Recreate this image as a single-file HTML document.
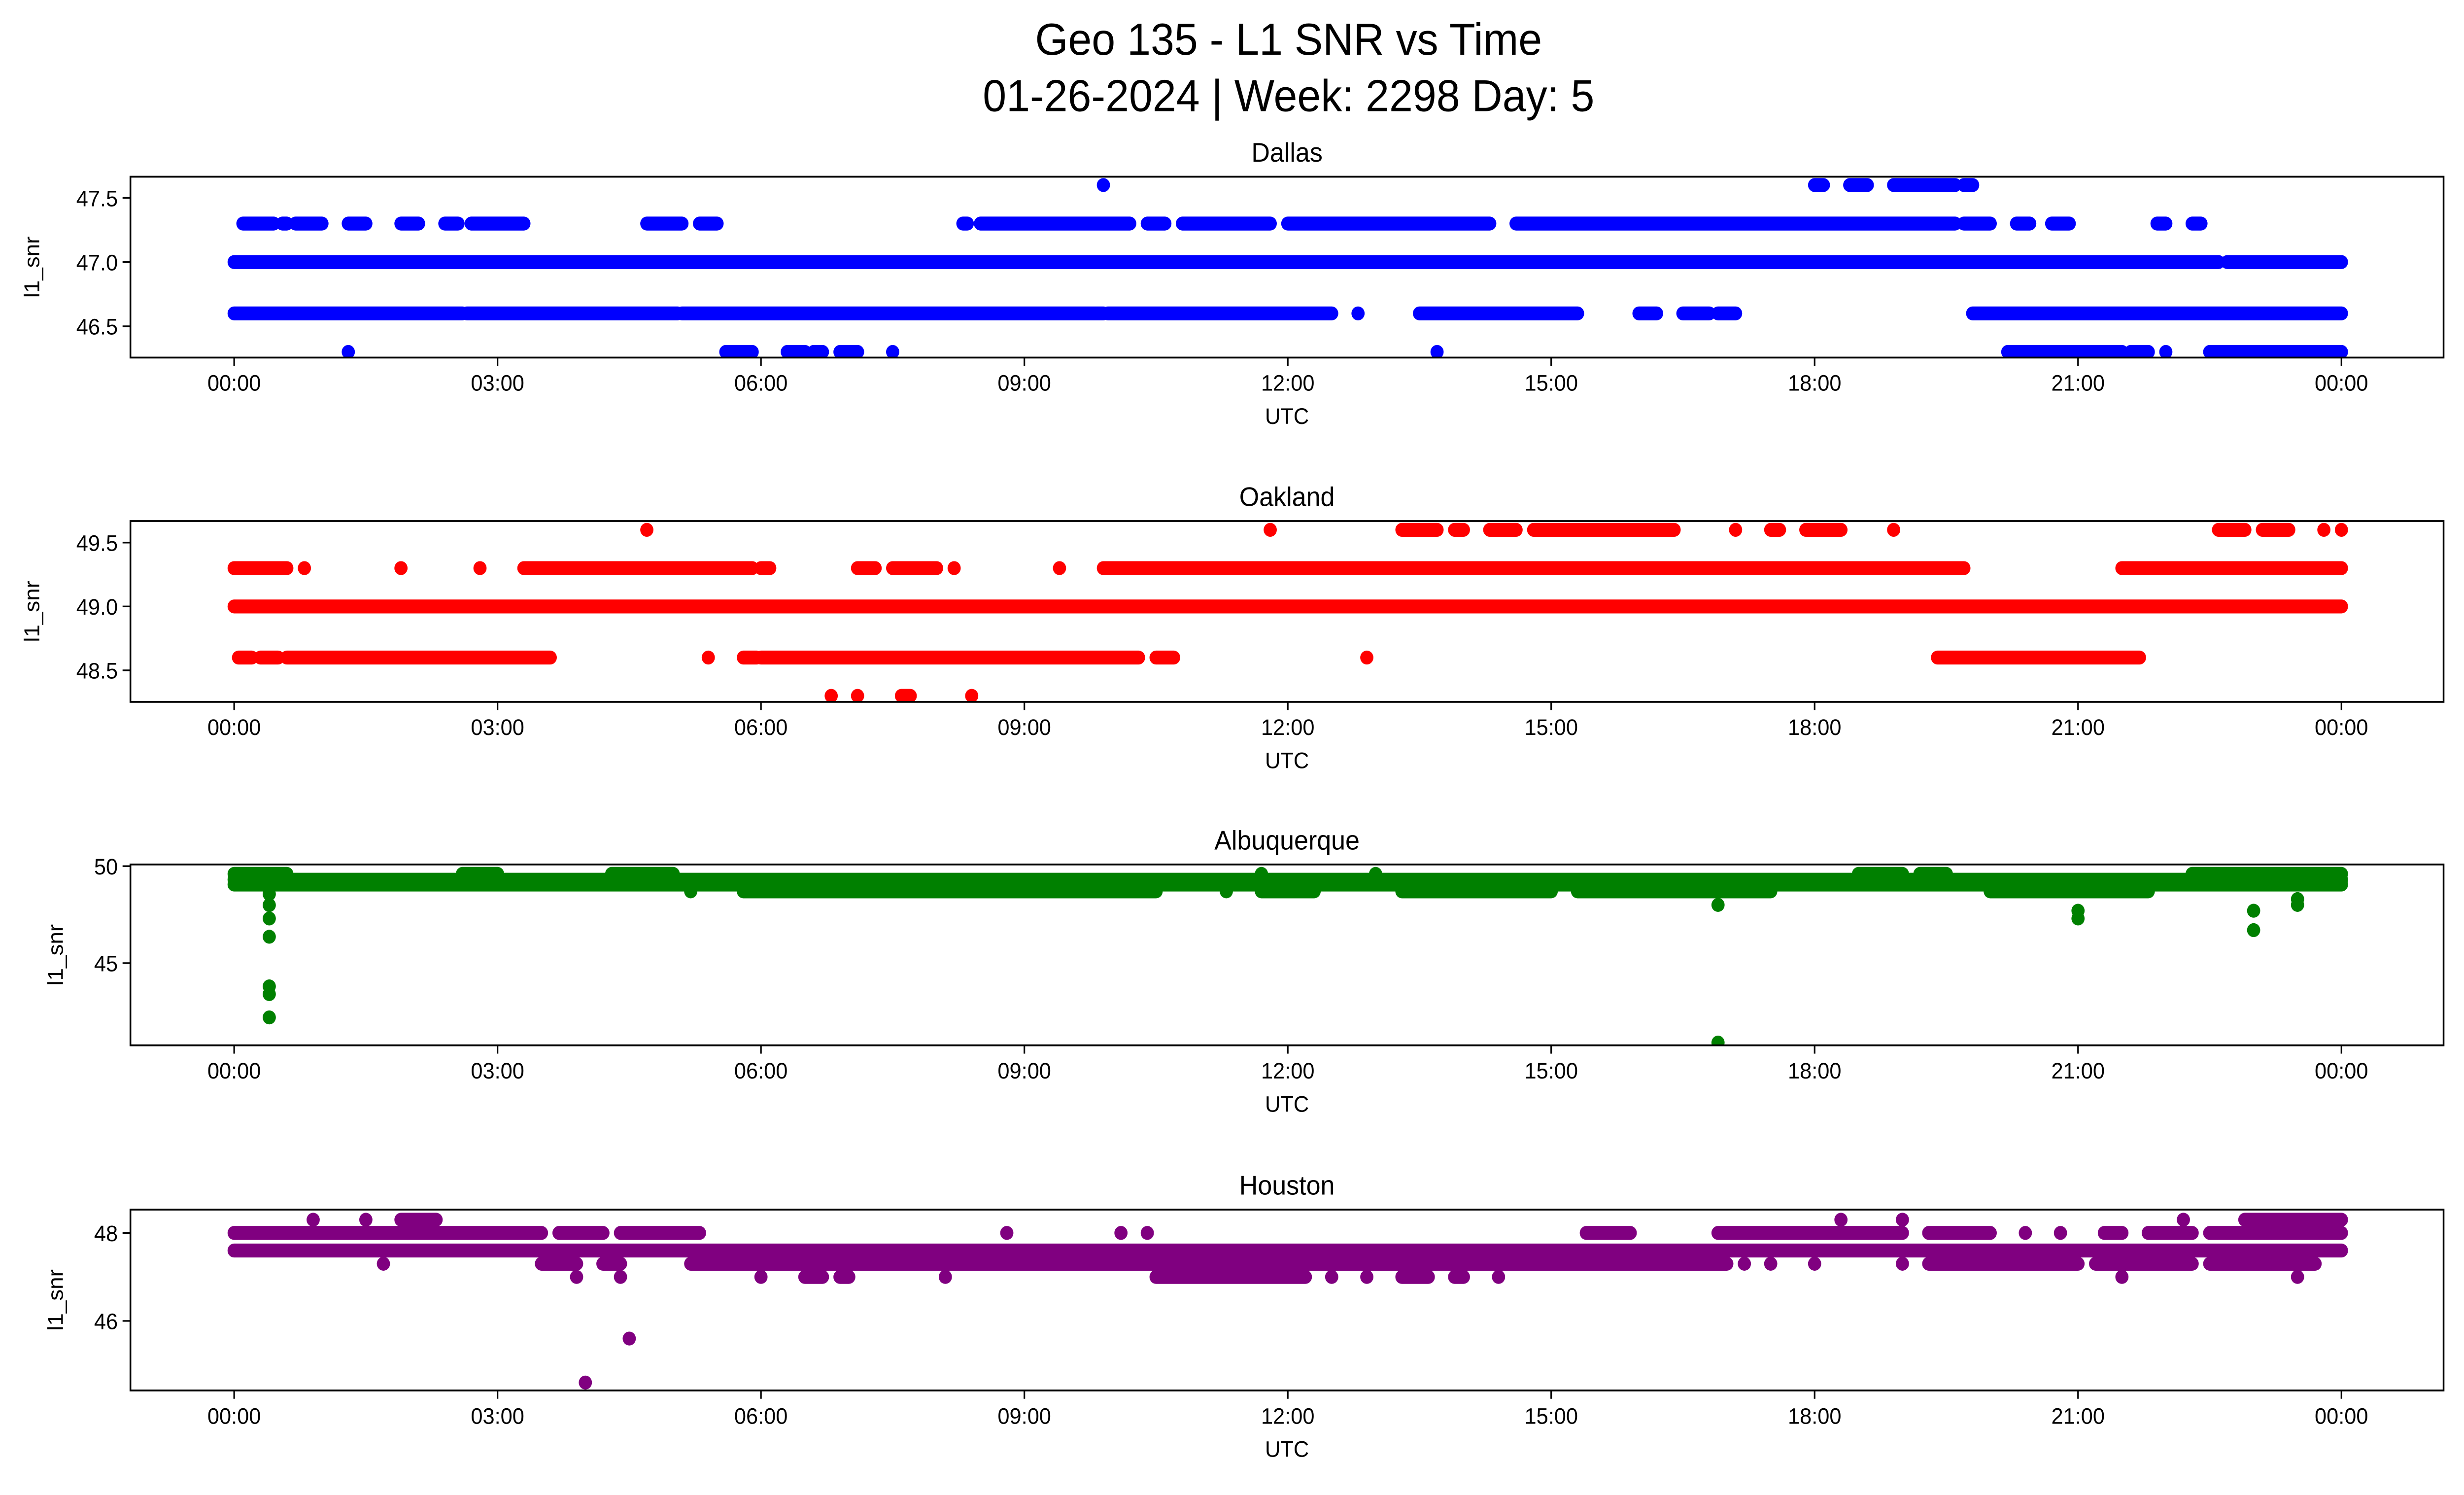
<!DOCTYPE html>
<html><head><meta charset="utf-8">
<style>
html,body{margin:0;padding:0;background:#fff;overflow:hidden;width:100vw;height:100vh;}
svg{display:block;width:100vw;height:100vh;}
text{font-family:"Liberation Sans","DejaVu Sans",sans-serif;fill:#000;}
</style></head>
<body>
<svg id="fig" viewBox="0 0 1568 901" preserveAspectRatio="none" xmlns="http://www.w3.org/2000/svg">
<rect x="0" y="0" width="1568" height="901" fill="#fff"/>
<text x="820" y="33" font-size="27" text-anchor="middle">Geo 135 - L1 SNR vs Time</text>
<text x="820" y="67" font-size="27" text-anchor="middle">01-26-2024 | Week: 2298 Day: 5</text>
<g id="plots"></g>
</svg>
<script>
// x tick labels (hours)
const xTickHours = [0, 3, 6, 9, 12, 15, 18, 21, 24];
const xTickLabels = ["00:00","03:00","06:00","09:00","12:00","15:00","18:00","21:00","00:00"];
const stationNames = ["Dallas","Oakland","Albuquerque","Houston"];
const stationColors = ["#0000ff","#ff0000","#008000","#800080"];
const dallasYTicks = [46.5, 47.0, 47.5];
const oaklandYTicks = [48.5, 49.0, 49.5];
const albuquerqueYTicks = [45, 50];
const houstonYTicks = [46, 48];
// runs: [startHour, endHour, l1_snr]
const dallasRuns = [
[0,22.6,47.0],[22.7,24,47.0],
[0,2.6,46.6],[2.65,5.05,46.6],[5.1,9.9,46.6],[9.95,12.5,46.6],[12.8,12.8,46.6],[13.5,15.3,46.6],[16.0,16.2,46.6],[16.5,16.8,46.6],[16.9,17.1,46.6],[19.8,24,46.6],
[0.1,0.45,47.3],[0.55,0.6,47.3],[0.7,1.0,47.3],[1.3,1.5,47.3],[1.9,2.1,47.3],[2.4,2.55,47.3],[2.7,3.3,47.3],[4.7,5.1,47.3],[5.3,5.5,47.3],[8.3,8.35,47.3],[8.5,10.2,47.3],[10.4,10.6,47.3],[10.8,11.8,47.3],[12.0,14.3,47.3],[14.6,19.6,47.3],[19.7,20.0,47.3],[20.3,20.45,47.3],[20.7,20.9,47.3],[21.9,22.0,47.3],[22.3,22.4,47.3],
[9.9,9.9,47.6],[18.0,18.1,47.6],[18.4,18.6,47.6],[18.9,19.6,47.6],[19.7,19.8,47.6],
[1.3,1.3,46.3],[5.6,5.9,46.3],[6.3,6.5,46.3],[6.6,6.7,46.3],[6.9,7.1,46.3],[7.5,7.5,46.3],[13.7,13.7,46.3],[20.2,21.5,46.3],[21.6,21.8,46.3],[22.0,22.0,46.3],[22.5,24,46.3]
];
const oaklandRuns = [
[0,24,49.0],
[0,0.6,49.3],[0.8,0.8,49.3],[1.9,1.9,49.3],[2.8,2.8,49.3],[3.3,5.9,49.3],[6.0,6.1,49.3],[7.1,7.3,49.3],[7.5,8.0,49.3],[8.2,8.2,49.3],[9.4,9.4,49.3],[9.9,19.7,49.3],[21.5,24,49.3],
[4.7,4.7,49.6],[11.8,11.8,49.6],[13.3,13.7,49.6],[13.9,14.0,49.6],[14.3,14.6,49.6],[14.8,16.4,49.6],[17.1,17.1,49.6],[17.5,17.6,49.6],[17.9,18.3,49.6],[18.9,18.9,49.6],[22.6,22.9,49.6],[23.1,23.4,49.6],[23.8,23.8,49.6],[24,24,49.6],
[0.05,0.2,48.6],[0.3,0.5,48.6],[0.6,3.6,48.6],[5.4,5.4,48.6],[5.8,5.95,48.6],[6.0,10.3,48.6],[10.5,10.7,48.6],[12.9,12.9,48.6],[19.4,21.7,48.6],
[6.8,6.8,48.3],[7.1,7.1,48.3],[7.6,7.7,48.3],[8.4,8.4,48.3]
];
const albuquerqueRuns = [
[0,24,49.3],[0,24,49.05],
[0,0.6,49.6],[2.6,3.0,49.6],[4.3,5.0,49.6],[11.7,11.7,49.6],[13.0,13.0,49.6],[18.5,19.0,49.6],[19.2,19.5,49.6],[22.3,24,49.6],
[5.2,5.2,48.7],[5.8,10.5,48.7],[11.3,11.3,48.7],[11.7,12.3,48.7],[13.3,15.0,48.7],[15.3,17.5,48.7],[20.0,21.8,48.7],
[0.4,0.4,48.56],[0.4,0.4,47.99],[0.4,0.4,47.3],[0.4,0.4,46.36],[0.4,0.4,43.8],[0.4,0.4,43.4],[0.4,0.4,42.2],
[16.9,16.9,48.0],[16.9,16.9,40.9],[21.0,21.0,47.7],[21.0,21.0,47.3],[23.0,23.0,47.7],[23.0,23.0,46.7],[23.5,23.5,48.3],[23.5,23.5,48.0]
];
const houstonRuns = [
[0,24,47.6],
[0,3.5,48.0],[3.7,4.2,48.0],[4.4,5.3,48.0],[8.8,8.8,48.0],[10.1,10.1,48.0],[10.4,10.4,48.0],[15.4,15.9,48.0],[16.9,19.0,48.0],[19.3,20.0,48.0],[20.4,20.4,48.0],[20.8,20.8,48.0],[21.3,21.5,48.0],[21.8,22.3,48.0],[22.5,24,48.0],
[1.7,1.7,47.3],[3.5,3.9,47.3],[4.2,4.4,47.3],[5.2,17.0,47.3],[17.2,17.2,47.3],[17.5,17.5,47.3],[18.0,18.0,47.3],[19.0,19.0,47.3],[19.3,21.0,47.3],[21.2,22.3,47.3],[22.5,23.7,47.3],
[3.9,3.9,47.0],[4.4,4.4,47.0],[6.0,6.0,47.0],[6.5,6.7,47.0],[6.9,7.0,47.0],[8.1,8.1,47.0],[10.5,12.2,47.0],[12.5,12.5,47.0],[12.9,12.9,47.0],[13.3,13.6,47.0],[13.9,14.0,47.0],[14.4,14.4,47.0],[21.5,21.5,47.0],[23.5,23.5,47.0],
[0.9,0.9,48.3],[1.5,1.5,48.3],[1.9,2.3,48.3],[18.3,18.3,48.3],[19.0,19.0,48.3],[22.2,22.2,48.3],[22.9,24,48.3],
[4.0,4.0,44.6],[4.5,4.5,45.6]
];
const allRuns = [dallasRuns, oaklandRuns, albuquerqueRuns, houstonRuns];
const allYTicks = [dallasYTicks, oaklandYTicks, albuquerqueYTicks, houstonYTicks];
const yLimits = [[46.256,47.665],[48.253,49.669],[40.76,50.085],[44.42,48.53]];
const tickDecimals = [1,1,0,0];

const NS = "http://www.w3.org/2000/svg";
const AX_L = 83, AX_R = 1555, X0 = 149, X24 = 1490;
const panelTops = [106.5, 314, 521, 729];
const PANEL_H = 109;
const R = 4.2;
function xScale(h){ return X0 + (X24 - X0) * h / 24; }
function mk(tag, attrs, parent){ const e=document.createElementNS(NS,tag); for(const k in attrs) e.setAttribute(k, attrs[k]); parent.appendChild(e); return e; }
const root = document.getElementById('plots');
for (let p=0;p<4;p++){
  const top = panelTops[p], bot = top + PANEL_H;
  const [ymin, ymax] = yLimits[p];
  const yScale = v => bot - (v - ymin) / (ymax - ymin) * PANEL_H;
  const g = mk('g', {}, root);
  
  
  const t = mk('text', {x:(AX_L+AX_R)/2, y: top-9, 'font-size':16.3, 'text-anchor':'middle'}, g);
  
  
  t.textContent = stationNames[p];
  const clip = mk('clipPath', {id:'clip'+p}, g);
  mk('rect', {x:AX_L, y:top, width:AX_R-AX_L, height:PANEL_H}, clip);
  const marks = mk('g', {'clip-path':'url(#clip'+p+')', fill: stationColors[p], stroke: stationColors[p]}, g);
  
  
  for (const run of allRuns[p]){
    const x1 = xScale(run[0]), x2 = xScale(run[1]), y = yScale(run[2]);
    if (x2 - x1 > 0.5){
      const ln = mk('line', {x1:x1, y1:y, x2:x2, y2:y, 'stroke-width':2*R, 'stroke-linecap':'round'}, marks);
      
      
    } else {
      const c = mk('circle', {cx:x1, cy:y, r:R, stroke:'none'}, marks);
      
      
    }
  }
  const frame = mk('rect', {x:AX_L, y:top, width:AX_R-AX_L, height:PANEL_H, fill:'none', stroke:'#000', 'stroke-width':1.1}, g);
  
  
  for (let i=0;i<xTickHours.length;i++){
    const x = xScale(xTickHours[i]);
    mk('line', {x1:x, y1:bot, x2:x, y2:bot+5, stroke:'#000', 'stroke-width':1}, g);
    const tl = mk('text', {x:x, y:bot+20, 'font-size':13.6, 'text-anchor':'middle'}, g);
    
    
    tl.textContent = xTickLabels[i];
  }
  const xl = mk('text', {x:(AX_L+AX_R)/2, y:bot+40, 'font-size':13.6, 'text-anchor':'middle'}, g);
  
  
  xl.textContent = 'UTC';
  for (const v of allYTicks[p]){
    const y = yScale(v);
    mk('line', {x1:AX_L-5, y1:y, x2:AX_L, y2:y, stroke:'#000', 'stroke-width':1}, g);
    const yl = mk('text', {x:AX_L-8, y:y+5, 'font-size':13.6, 'text-anchor':'end'}, g);
    
    
    yl.textContent = v.toFixed(tickDecimals[p]);
  }
  const yx = (p >= 2) ? 40 : 25;
  const yt = mk('text', {x:yx, y:(top+bot)/2, 'font-size':13.6, 'text-anchor':'middle', transform:'rotate(-90 '+yx+' '+((top+bot)/2)+')'}, g);
  
  
  yt.textContent = 'l1_snr';
}
</script>
</body></html>
